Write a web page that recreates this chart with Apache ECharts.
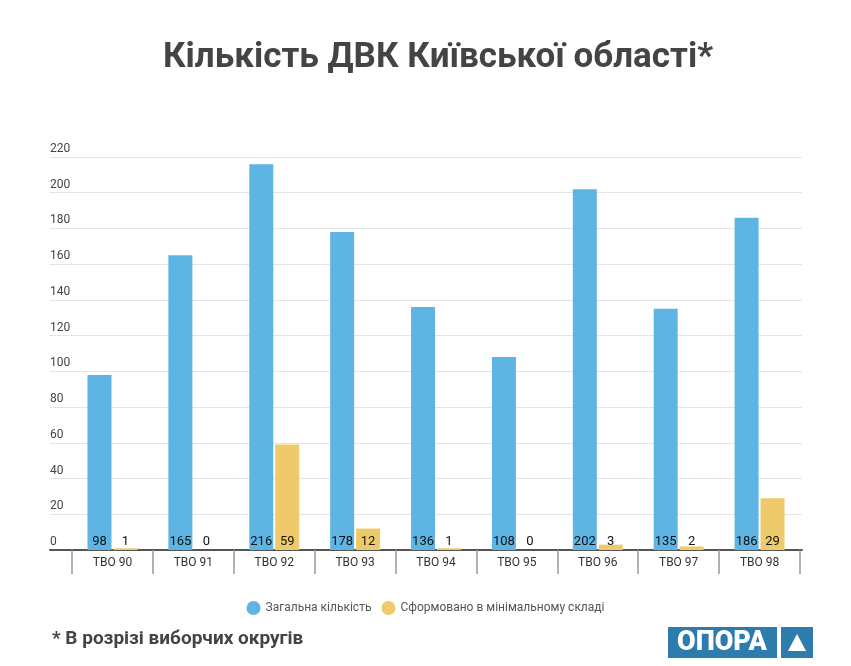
<!DOCTYPE html>
<html>
<head>
<meta charset="utf-8">
<script src="https://cdn.jsdelivr.net/npm/echarts@6/dist/echarts.min.js"></script>
<style>
  html, body { margin: 0; padding: 0; background: #fff; }
  #chart { width: 851px; height: 666px; }
</style>
</head>
<body>
<div id="chart"></div>
<script>
const categories = ['ТВО 90', 'ТВО 91', 'ТВО 92', 'ТВО 93', 'ТВО 94', 'ТВО 95', 'ТВО 96', 'ТВО 97', 'ТВО 98'];
const totalCount = [98, 165, 216, 178, 136, 108, 202, 135, 186];
const minimalCount = [1, 0, 59, 12, 1, 0, 3, 2, 29];
const seriesNames = ['Загальна кількість', 'Сформовано в мінімальному складі'];

const chart = echarts.init(document.getElementById('chart'));
const font = 'Roboto, sans-serif';

const barLabel = {
    show: true,
    position: 'insideBottom',
    distance: 2,
    color: '#111',
    fontSize: 13,
    fontFamily: font
};

chart.setOption({
    animation: false,
    textStyle: { fontFamily: font },
    grid: [
        { left: 50, right: 49, top: 157, bottom: 116 },
        { left: 72, right: 51, top: 157, bottom: 116 }
    ],
    xAxis: [{
        gridIndex: 0,
        type: 'category',
        data: [''],
        axisLine: { show: true, lineStyle: { color: '#555', width: 2 } },
        axisTick: { show: false },
        axisLabel: { show: false }
    }, {
        gridIndex: 1,
        type: 'category',
        data: categories,
        axisLine: { show: false },
        axisTick: { show: true, length: 24, lineStyle: { color: '#999', width: 1.5 } },
        axisLabel: { margin: 7, fontSize: 12, color: '#333' }
    }],
    yAxis: [{
        gridIndex: 0,
        type: 'value',
        min: 0,
        max: 220,
        interval: 20,
        axisLine: { show: false },
        axisTick: { show: false },
        axisLabel: {
            inside: true,
            margin: 0,
            verticalAlign: 'bottom',
            padding: [0, 0, 2, 0],
            fontSize: 12,
            color: '#444'
        },
        splitLine: { lineStyle: { color: '#e4e4e4', width: 1 } }
    }, {
        gridIndex: 1,
        type: 'value',
        min: 0,
        max: 220,
        interval: 20,
        show: false,
        splitLine: { show: false }
    }],
    legend: {
        left: 'center',
        top: 596,
        icon: 'circle',
        itemWidth: 14,
        itemHeight: 14,
        itemGap: 10,
        textStyle: { fontSize: 12, color: '#555' },
        data: seriesNames
    },
    graphic: [{
        type: 'text',
        x: 438,
        y: 58,
        style: {
            text: 'Кількість ДВК Київської області*',
            fontSize: 35,
            fontWeight: 'bold',
            fill: '#444',
            align: 'center',
            verticalAlign: 'middle',
            fontFamily: font
        }
    }, {
        type: 'text',
        left: 52,
        top: 630,
        style: {
            text: '* В розрізі виборчих округів',
            fontSize: 19,
            fontWeight: 'bold',
            fill: '#444',
            fontFamily: font
        }
    }, {
        type: 'rect',
        shape: { x: 668, y: 627, width: 109, height: 31 },
        style: { fill: '#2e7bae' }
    }, {
        type: 'text',
        x: 722,
        y: 643,
        style: {
            text: 'ОПОРА',
            fontSize: 27,
            fontWeight: 900,
            fill: '#fff',
            align: 'center',
            verticalAlign: 'middle',
            fontFamily: 'Roboto, sans-serif'
        }
    }, {
        type: 'rect',
        shape: { x: 781, y: 627, width: 32, height: 31 },
        style: { fill: '#2e7bae' }
    }, {
        type: 'polygon',
        shape: { points: [[797, 634], [788, 651], [806, 651]] },
        style: { fill: '#fff' }
    }],
    series: [{
        name: seriesNames[0],
        type: 'bar',
        xAxisIndex: 1,
        yAxisIndex: 1,
        barWidth: 24,
        barGap: '8%',
        itemStyle: { color: '#5eb5e4' },
        label: barLabel,
        data: totalCount
    }, {
        name: seriesNames[1],
        type: 'bar',
        xAxisIndex: 1,
        yAxisIndex: 1,
        barWidth: 24,
        barGap: '8%',
        itemStyle: { color: '#eeca6b' },
        label: barLabel,
        data: minimalCount
    }]
});
</script>
</body>
</html>
